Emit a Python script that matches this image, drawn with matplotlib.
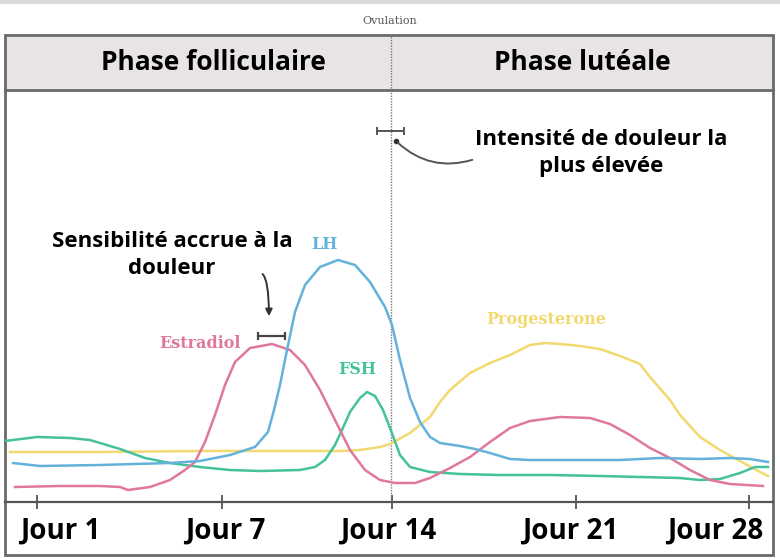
import numpy as np
import matplotlib.pyplot as plt
from matplotlib.patches import Rectangle

# x = position along the cycle (chart units), y = relative hormone level
estradiol_x = [15, 60, 100, 120, 128, 150, 170, 185, 195, 205, 215, 225, 235, 250, 272, 290, 305, 320, 335,
               350, 365, 380, 395, 415, 430, 450, 470, 490, 510, 530, 560, 590, 610, 630, 650, 670, 690,
               710, 730, 763]
estradiol_y = [15, 16, 16, 15, 12, 15, 22, 32, 40, 60, 87, 117, 140, 154, 158, 152, 137, 112, 82,
               52, 32, 22, 19, 19, 24, 34, 45, 60, 74, 81, 85, 84, 78, 67, 54, 44, 32,
               22, 18, 16]

lh_x = [13, 40, 100, 170, 200, 230, 255, 268, 274, 280, 287, 295, 305, 320, 338, 355, 370, 385, 392,
        400, 410, 420, 430, 440, 460, 475, 490, 510, 530, 570, 620, 640, 660, 700, 730, 750, 768]
lh_y = [39, 36, 37, 39, 41, 47, 55, 70, 92, 117, 152, 190, 217, 235, 242, 237, 220, 195, 177,
        142, 104, 80, 65, 59, 56, 53, 49, 43, 42, 42, 42, 43, 44, 43, 44, 43, 40]

fsh_x = [5, 37, 70, 90, 120, 145, 170, 200, 230, 260, 300, 315, 325, 335, 342, 350, 360, 367, 375,
         383, 390, 400, 410, 430, 460, 500, 550, 600, 640, 680, 700, 720, 740, 755, 768]
fsh_y = [61, 65, 64, 62, 53, 44, 39, 35, 32, 31, 32, 35, 42, 57, 72, 90, 104, 110, 106,
         92, 74, 47, 35, 30, 28, 27, 27, 26, 25, 24, 22, 23, 29, 35, 35]

prog_x = [10, 100, 200, 300, 340, 360, 380, 390, 410, 430, 440, 450, 470, 490, 510, 530, 545, 560,
          580, 600, 620, 640, 650, 670, 680, 700, 720, 740, 760, 768]
prog_y = [50, 50, 51, 51, 51, 52, 55, 58, 69, 85, 100, 112, 129, 139, 147, 157, 159, 158,
          156, 153, 146, 138, 125, 102, 87, 65, 52, 41, 30, 26]

tick_pos = [37, 222, 392, 576, 749]
tick_labels = ['Jour 1', 'Jour 7', 'Jour 14', 'Jour 21', 'Jour 28']
label_pos = [60, 225, 388, 570, 715]
ovulation_x = 391

pink = '#e0779d'
blue = '#63b2da'
green = '#45c19c'
yellow = '#f1d970'
frame = '#6a6a6a'

fig = plt.figure(figsize=(7.8, 5.6), dpi=100)

# overlay in pixel units for frame, header and text
deco = fig.add_axes([0, 0, 1, 1])
deco.set_xlim(0, 780)
deco.set_ylim(560, 0)
deco.axis('off')
deco.add_patch(Rectangle((0, 0), 780, 4, color='#d9d9d9', lw=0))
deco.add_patch(Rectangle((5, 35), 768, 55, facecolor='#e8e4e4', edgecolor='none'))
deco.add_patch(Rectangle((5, 35), 768, 520, facecolor='none', edgecolor=frame, lw=2))
deco.plot([5, 773], [90, 90], color=frame, lw=2)
deco.text(390, 21, 'Ovulation', ha='center', va='center', fontsize=8, family='DejaVu Serif', color='#555555')
deco.text(213, 62, 'Phase folliculaire', ha='center', va='center', fontsize=19, weight='bold',
          family='Open Sans', color='black')
deco.text(582, 62, 'Phase lutéale', ha='center', va='center', fontsize=19, weight='bold',
          family='Open Sans', color='black')
for lx, lab in zip(label_pos, tick_labels):
    deco.text(lx, 531, lab, ha='center', va='center', fontsize=20, weight='bold', family='Open Sans')

# data axes
ax = fig.add_axes([5 / 780, 58 / 560, 768 / 780, 412 / 560])
ax.set_xlim(5, 773)
ax.set_ylim(0, 412)
ax.patch.set_alpha(0)
for s in ['top', 'left', 'right']:
    ax.spines[s].set_visible(False)
ax.spines['bottom'].set_color('#555555')
ax.spines['bottom'].set_linewidth(1.6)
ax.set_yticks([])
ax.set_xticks(tick_pos)
ax.set_xticklabels([])
ax.tick_params(axis='x', direction='inout', length=10, width=1.3, color='#555555')

ax.axvline(ovulation_x, ymin=0, ymax=1.133, clip_on=False, color='#777777', lw=1, ls=(0, (1, 1)))

lw = 1.8
ax.plot(prog_x, prog_y, color=yellow, lw=lw, solid_joinstyle='round')
ax.plot(fsh_x, fsh_y, color=green, lw=lw, solid_joinstyle='round')
ax.plot(estradiol_x, estradiol_y, color=pink, lw=lw, solid_joinstyle='round')
ax.plot(lh_x, lh_y, color=blue, lw=lw, solid_joinstyle='round')

serif = dict(family='DejaVu Serif', fontsize=11.5, weight='bold', ha='center', va='center')
ax.text(324, 258, 'LH', color=blue, **serif)
ax.text(200, 158, 'Estradiol', color=pink, **serif)
ax.text(357, 133, 'FSH', color=green, **serif)
ax.text(546, 183, 'Progesterone', color=yellow, **serif)

# pain markers
ax.errorbar([271.5], [166], xerr=[13.5], fmt='none', ecolor='#444444', elinewidth=1.6, capsize=3, capthick=1.6)
ax.errorbar([390.5], [371], xerr=[13.5], fmt='none', ecolor='#555555', elinewidth=1.4, capsize=3, capthick=1.4)

ax.annotate('', xy=(269, 183), xytext=(260, 229),
            arrowprops=dict(arrowstyle='-|>', color='#333333', lw=1.4,
                            connectionstyle='angle3,angleA=0,angleB=90', mutation_scale=10))
ax.plot([396], [361], 'o', color='#333333', ms=3)
ax.annotate('', xy=(396, 361), xytext=(475, 343),
            arrowprops=dict(arrowstyle='-', color='#555555', lw=1.4,
                            connectionstyle='arc3,rad=-0.3'))

ax.text(172, 247, 'Sensibilité accrue à la\ndouleur', ha='center', va='center', fontsize=16,
        weight='bold', family='Open Sans', linespacing=1.42)
ax.text(601, 349, 'Intensité de douleur la\nplus élevée', ha='center', va='center', fontsize=16,
        weight='bold', family='Open Sans', linespacing=1.42)

fig.savefig('out.png', dpi=100)
